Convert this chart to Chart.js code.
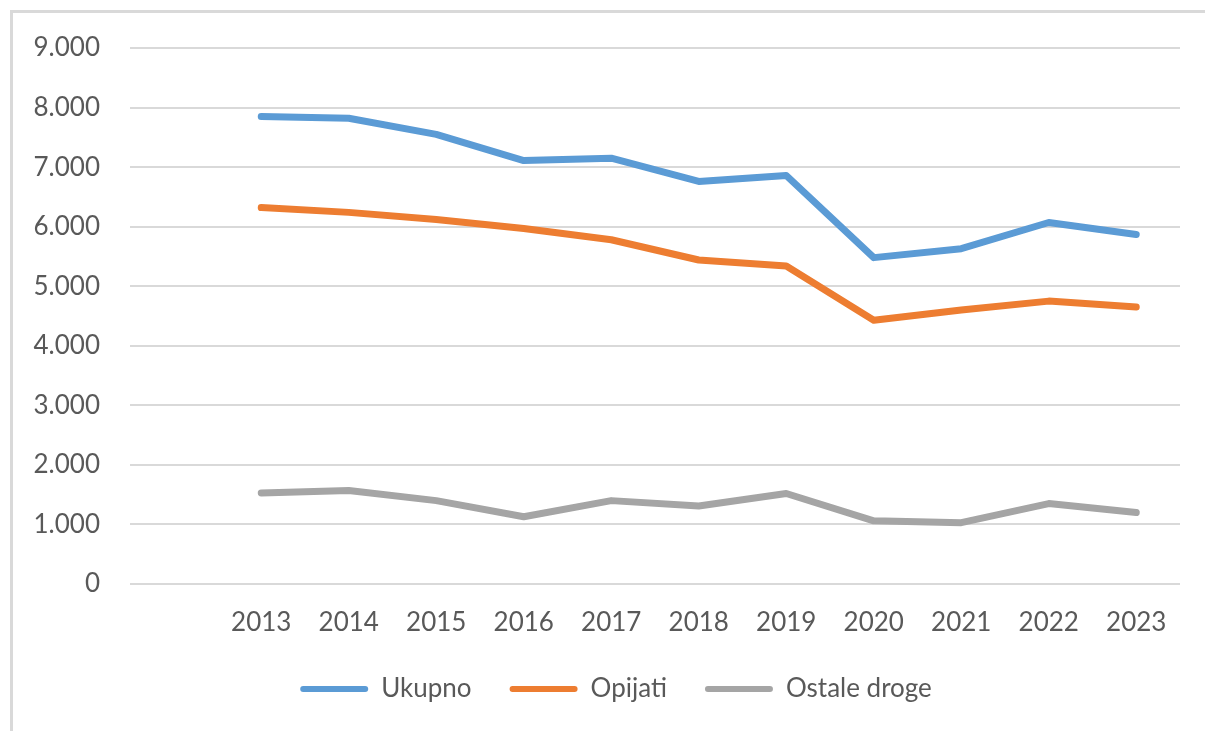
<!DOCTYPE html>
<html>
<head>
<meta charset="utf-8">
<script src="https://cdn.jsdelivr.net/npm/chart.js@4"></script>
<style>
  html, body { margin: 0; padding: 0; background: #fff; }
  #wrap { position: relative; width: 1205px; height: 731px; overflow: hidden; }
  #frame { position: absolute; left: 10px; top: 10px; width: 1300px; height: 800px;
           border-left: 3px solid #d9d9d9; border-top: 3px solid #d9d9d9; }
  canvas { position: absolute; left: 0; top: 0; }
</style>
</head>
<body>
<div id="wrap">
  <div id="frame"></div>
  <canvas id="chart" width="1205" height="731"></canvas>
</div>
<script>
// first slot is left empty, as in the original
const years = ["", "2013", "2014", "2015", "2016", "2017", "2018", "2019", "2020", "2021", "2022", "2023"];
const ukupno = [null, 7850, 7820, 7550, 7110, 7150, 6760, 6860, 5480, 5630, 6070, 5870];
const opijati = [null, 6320, 6240, 6120, 5970, 5780, 5440, 5340, 4430, 4600, 4750, 4650];
const ostale = [null, 1530, 1570, 1400, 1130, 1400, 1310, 1520, 1060, 1030, 1350, 1200];

const textColor = "#595959";
const fontFamily = "Lato, 'Open Sans', sans-serif";

function line(label, data, color) {
  return {
    label, data,
    borderColor: color,
    backgroundColor: color,
    borderWidth: 7,
    borderCapStyle: "round",
    borderJoinStyle: "round",
    pointRadius: 0,
    tension: 0,
    spanGaps: false
  };
}

// legend sits a bit right of centre in the original
const legendShift = {
  id: "legendShift",
  afterLayout(chart) {
    chart.legend.left += 26;
    chart.legend.right += 26;
  }
};

const ctx = document.getElementById("chart").getContext("2d");

new Chart(ctx, {
  type: "line",
  data: {
    labels: years,
    datasets: [
      line("Ukupno", ukupno, "#5b9bd5"),
      line("Opijati", opijati, "#ed7d31"),
      line("Ostale droge", ostale, "#a5a5a5")
    ]
  },
  plugins: [legendShift],
  options: {
    responsive: false,
    animation: false,
    layout: { padding: { top: 48, right: 25, bottom: 19, left: 0 } },
    plugins: {
      tooltip: { enabled: false },
      legend: {
        position: "bottom",
        labels: {
          color: textColor,
          font: { family: fontFamily, size: 26 },
          boxWidth: 68,
          boxHeight: 6,
          padding: 38,
          useBorderRadius: true,
          borderRadius: 3,
          generateLabels: (chart) =>
            Chart.defaults.plugins.legend.labels.generateLabels(chart).map(it => ({
              ...it, lineWidth: 0, strokeStyle: it.fillStyle
            }))
        }
      }
    },
    scales: {
      x: {
        offset: true,
        grid: { display: false, drawTicks: false },
        border: { display: false },
        ticks: { color: textColor, font: { family: fontFamily, size: 26 }, padding: 23, maxRotation: 0, autoSkip: false },
        afterFit: (s) => { s.height = 54; }
      },
      y: {
        min: 0, max: 9000,
        grid: { color: "#d9d9d9", lineWidth: 2, drawTicks: false },
        border: { display: false },
        ticks: {
          stepSize: 1000,
          color: textColor,
          font: { family: fontFamily, size: 26 },
          padding: 30,
          callback: (v) => String(v).replace(/\B(?=(\d{3})+(?!\d))/g, ".")
        },
        afterFit: (s) => { s.width = 130; }
      }
    }
  }
});
</script>
</body>
</html>
